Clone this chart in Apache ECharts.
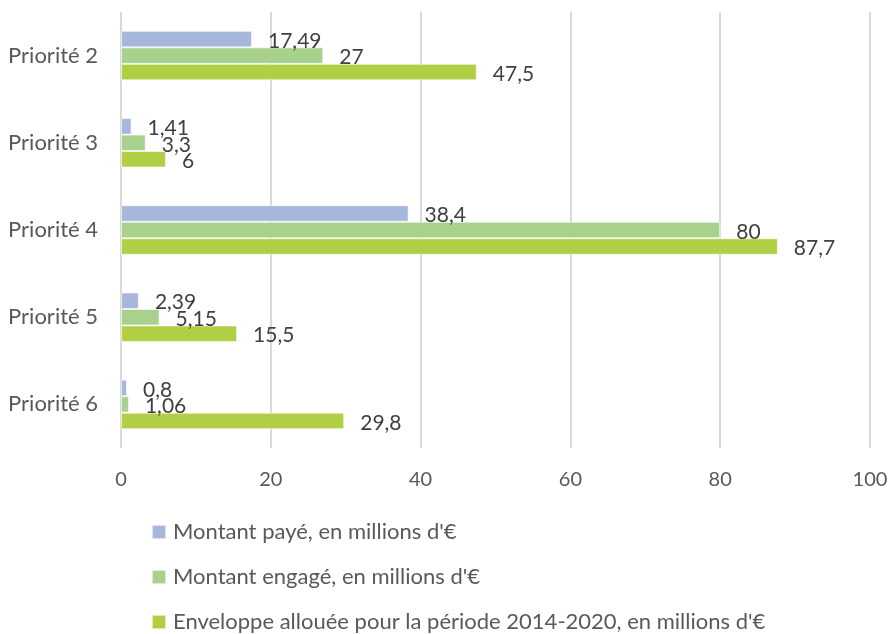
<!DOCTYPE html>
<html>
<head>
<meta charset="utf-8">
<script src="https://cdn.jsdelivr.net/npm/echarts@6/dist/echarts.min.js"></script>
<style>html,body{margin:0;padding:0;background:#fff}#c{width:892px;height:634px}</style>
</head>
<body>
<div id="c"></div>
<script>
const categories = ['Priorité 2', 'Priorité 3', 'Priorité 4', 'Priorité 5', 'Priorité 6'];
const seriesNames = ["Montant payé, en millions d'€", "Montant engagé, en millions d'€", "Enveloppe allouée pour la période 2014-2020, en millions d'€"];
const paye = [17.49, 1.41, 38.4, 2.39, 0.8];
const engage = [27, 3.3, 80, 5.15, 1.06];
const enveloppe = [47.5, 6, 87.7, 15.5, 29.8];
const xTicks = [0, 20, 40, 60, 80, 100];
const colors = ['#A7B6DB', '#A8D18E', '#B1CF44'];

const font = 'Lato, "Open Sans", sans-serif';
const chart = echarts.init(document.getElementById('c'));
const mk = (name, data, color) => ({
  name, type: 'bar', data, barWidth: 16.5, barGap: '0%',
  itemStyle: { color, borderColor: 'rgba(255,255,255,0.6)', borderWidth: 1 },
  label: {
    show: true, position: 'right', distance: 16, offset: [0, 2],
    color: '#404040', fontSize: 21, fontFamily: font,
    formatter: p => String(p.value).replace('.', ',')
  }
});
chart.setOption({
  animation: false,
  textStyle: { fontFamily: font },
  grid: { left: 121, right: 22, top: 12, bottom: 186, containLabel: false },
  xAxis: {
    type: 'value', min: xTicks[0], max: xTicks[xTicks.length - 1], interval: 20,
    axisLine: { show: false }, axisTick: { show: false },
    splitLine: { lineStyle: { color: '#D9D9D9', width: 2 } },
    axisLabel: { color: '#595959', fontSize: 20, margin: 22, fontFamily: font }
  },
  yAxis: {
    type: 'category', data: categories, inverse: true,
    axisLine: { show: false }, axisTick: { show: false },
    axisLabel: { color: '#595959', fontSize: 22, margin: 23, fontFamily: font }
  },
  legend: {
    orient: 'vertical', left: 151, top: 521, height: 200, padding: 0, itemGap: 23,
    itemWidth: 14, itemHeight: 14, icon: 'rect',
    textStyle: { color: '#595959', fontSize: 22, fontFamily: font, padding: [0, 0, 0, 2] },
    data: seriesNames
  },
  series: [mk(seriesNames[0], paye, colors[0]), mk(seriesNames[1], engage, colors[1]), mk(seriesNames[2], enveloppe, colors[2])]
});
</script>
</body>
</html>
